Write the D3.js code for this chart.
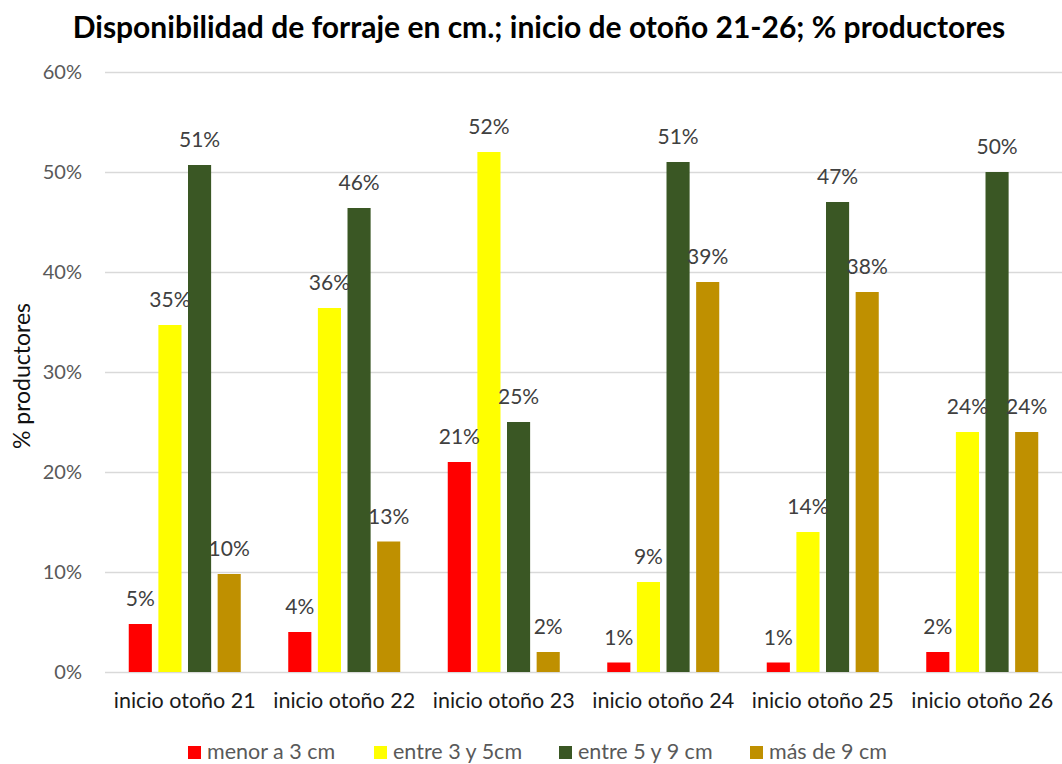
<!DOCTYPE html>
<html>
<head>
<meta charset="utf-8">
<script src="https://cdn.jsdelivr.net/npm/d3@7"></script>
<style>
  body { margin: 0; background: #fff; }
  svg { font-family: Lato, 'Open Sans', sans-serif; }
</style>
</head>
<body>
<div id="chart"></div>
<script>
const categories = ['inicio otoño 21', 'inicio otoño 22', 'inicio otoño 23', 'inicio otoño 24', 'inicio otoño 25', 'inicio otoño 26']
const seriesNames = ['menor a 3 cm', 'entre 3 y 5cm', 'entre 5 y 9 cm', 'más de 9 cm']
const menor3 = [0.048, 0.040, 0.21, 0.0095, 0.0095, 0.02]
const entre3y5 = [0.347, 0.364, 0.52, 0.09, 0.14, 0.24]
const entre5y9 = [0.507, 0.464, 0.25, 0.51, 0.47, 0.50]
const mas9 = [0.098, 0.1305, 0.02, 0.39, 0.38, 0.24]
const yTicks = [0, 0.1, 0.2, 0.3, 0.4, 0.5, 0.6]
const colors = ['#ff0000', '#ffff00', '#3a5724', '#bf9000']

const dimensions = {
  width: 1062,
  height: 764,
  margin: { top: 72, right: 0, bottom: 92, left: 105 }
}

const seriesValues = [menor3, entre3y5, entre5y9, mas9]
const rows = categories.map((c, i) => ({
  cat: c,
  values: seriesNames.map((s, j) => ({ cat: c, serie: s, idx: j, value: seriesValues[j][i] }))
}))

const svg = d3.select('#chart').append('svg')
  .attr('width', dimensions.width)
  .attr('height', dimensions.height)

const innerW = dimensions.width - dimensions.margin.left - dimensions.margin.right
const innerH = dimensions.height - dimensions.margin.top - dimensions.margin.bottom

const xScale = d3.scaleBand()
  .domain(categories)
  .range([0, innerW])

// group of 4 bars takes ~112px of each category band
const groupW = 112
const xInner = d3.scaleBand()
  .domain(seriesNames)
  .range([(xScale.bandwidth() - groupW) / 2, (xScale.bandwidth() + groupW) / 2])
  .paddingInner(0.22)

const yScale = d3.scaleLinear()
  .domain([0, 0.6])
  .range([innerH, 0])

const fmt = d3.format('.0%')

// title
svg.append('text')
  .attr('x', 539)
  .attr('y', 38)
  .attr('text-anchor', 'middle')
  .attr('font-size', 30)
  .attr('font-weight', 'bold')
  .attr('fill', '#000')
  .text('Disponibilidad de forraje en cm.; inicio de otoño 21-26; % productores')

const bounds = svg.append('g')
  .attr('transform', `translate(${dimensions.margin.left}, ${dimensions.margin.top})`)

// gridlines
bounds.append('g')
  .selectAll('line')
  .data(yTicks)
  .join('line')
  .attr('x1', 0)
  .attr('x2', innerW)
  .attr('y1', d => Math.round(yScale(d)) + 0.5)
  .attr('y2', d => Math.round(yScale(d)) + 0.5)
  .attr('stroke', '#d9d9d9')
  .attr('stroke-width', 1.3)

// y axis
const yAxis = bounds.append('g')
  .attr('transform', 'translate(-23, 0)')
  .call(d3.axisLeft(yScale).tickValues(yTicks).tickFormat(fmt).tickSize(0).tickPadding(0))
yAxis.select('.domain').remove()
yAxis.selectAll('text')
  .attr('font-family', 'Lato, sans-serif')
  .attr('font-size', 20)
  .attr('fill', '#595959')

// x axis
const xAxis = bounds.append('g')
  .attr('transform', `translate(0, ${innerH})`)
  .call(d3.axisBottom(xScale).tickSize(0).tickPadding(0))
xAxis.select('.domain').remove()
xAxis.selectAll('text')
  .attr('y', 36)
  .attr('dy', null)
  .attr('font-family', 'Lato, sans-serif')
  .attr('font-size', 21.5)
  .attr('fill', '#1a1a1a')

// y axis title
svg.append('text')
  .attr('transform', `translate(30, ${dimensions.margin.top + innerH / 2 + 4}) rotate(-90)`)
  .attr('text-anchor', 'middle')
  .attr('font-size', 23)
  .attr('fill', '#111')
  .text('% productores')

// bars
const groups = bounds.selectAll('g.group')
  .data(rows)
  .join('g')
  .attr('class', 'group')
  .attr('transform', d => `translate(${xScale(d.cat)}, 0)`)

groups.selectAll('rect')
  .data(d => d.values)
  .join('rect')
  .attr('x', d => xInner(d.serie))
  .attr('y', d => yScale(d.value))
  .attr('width', xInner.bandwidth())
  .attr('height', d => yScale(0) - yScale(d.value))
  .attr('fill', d => colors[d.idx])

groups.selectAll('text.label')
  .data(d => d.values)
  .join('text')
  .attr('class', 'label')
  .attr('x', d => xInner(d.serie) + xInner.bandwidth() / 2)
  .attr('y', d => yScale(d.value) - 18)
  .attr('text-anchor', 'middle')
  .attr('font-size', 21)
  .attr('fill', '#404040')
  .text(d => fmt(d.value))

// legend (kept just inside the bottom edge so descenders are not clipped)
const legendX = [188, 374, 559, 750]
const legend = svg.append('g')
  .selectAll('g')
  .data(seriesNames)
  .join('g')
  .attr('transform', (d, i) => `translate(${legendX[i]}, 746)`)
legend.append('rect')
  .attr('width', 13)
  .attr('height', 13)
  .attr('fill', (d, i) => colors[i])
legend.append('text')
  .attr('x', 19)
  .attr('y', 13)
  .attr('font-size', 21.5)
  .attr('fill', '#595959')
  .text(d => d)
</script>
</body>
</html>
